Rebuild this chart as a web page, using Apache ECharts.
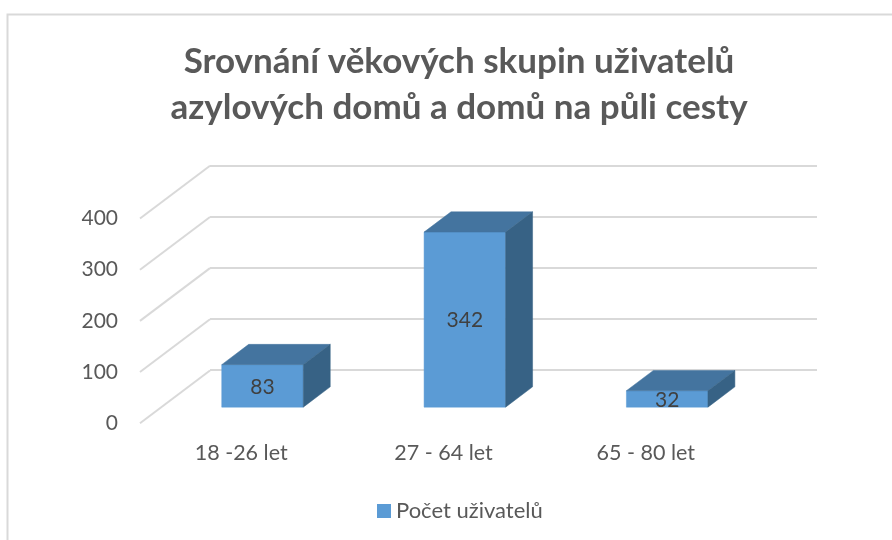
<!DOCTYPE html>
<html>
<head>
<meta charset="utf-8">
<style>html,body{margin:0;padding:0;background:#fff}#c{width:892px;height:540px}</style>
<script src="https://cdn.jsdelivr.net/npm/echarts@6/dist/echarts.min.js"></script>
</head>
<body>
<div id="c"></div>
<script>
const titleText = 'Srovnání věkových skupin uživatelů\nazylových domů a domů na půli cesty';
const seriesName = 'Počet uživatelů';
const categories = ['18 -26 let', '27 - 64 let', '65 - 80 let'];
const counts = [83, 342, 32];
const yTicks = [0, 100, 200, 300, 400];

const FONT = 'Lato, "Noto Sans", sans-serif';
const DEPTH = [70, -52.7];      // wall depth in px
const BAR_START = 0.305, BAR_END = 0.69; // depth fractions occupied by bars
const BAR_RATIO = 0.403;
const FRONT = '#5B9BD5', TOP = '#44749F', SIDE = '#376285';
const GRID_COLOR = '#D9D9D9';

const chart = echarts.init(document.getElementById('c'), null, {renderer: 'canvas'});

function poly(points, color) {
  return {type: 'polygon', shape: {points}, style: {fill: color, stroke: color, lineWidth: 0.5}};
}

chart.setOption({
  animation: false,
  backgroundColor: '#fff',
  title: {
    text: titleText, left: 454, top: 34, textAlign: 'center',
    textStyle: {fontFamily: FONT, fontWeight: 'bold', fontSize: 35, lineHeight: 46, color: '#595959'}
  },
  legend: {
    data: [seriesName], left: 372, top: 495, icon: 'rect', itemWidth: 14, itemHeight: 14, itemGap: 6,
    textStyle: {fontFamily: FONT, fontSize: 22, color: '#595959'}
  },
  grid: [
    {left: 140, top: 218.5, width: 607, height: 204.7},
    {left: 210, top: 165.3, width: 607, height: 204.7}
  ],
  xAxis: [
    {type: 'category', gridIndex: 0, data: categories,
     axisLine: {show: false}, axisTick: {show: false},
     axisLabel: {margin: 19, fontFamily: FONT, fontSize: 21.5, color: '#595959'}},
    {type: 'category', gridIndex: 1, data: categories, show: false}
  ],
  yAxis: [
    {type: 'value', gridIndex: 0, min: 0, max: 400, interval: 100,
     axisLine: {show: false}, axisTick: {show: false}, splitLine: {show: false},
     axisLabel: {margin: 22, padding: [4, 0, 0, 0], fontFamily: FONT, fontSize: 21, color: '#595959'}},
    {type: 'value', gridIndex: 1, min: 0, max: 400, interval: 100,
     axisLine: {show: false}, axisTick: {show: false}, axisLabel: {show: false},
     splitLine: {show: true, lineStyle: {color: GRID_COLOR, width: 2}}}
  ],
  graphic: [
    {type: 'polyline', silent: true, shape: {points: [[7.5, 540], [7.5, 14.5], [892, 14.5]]},
     style: {fill: 'none', stroke: GRID_COLOR, lineWidth: 2}}
  ],
  series: [
    {
      name: 'Mřížka', type: 'custom', xAxisIndex: 0, yAxisIndex: 0, z: 1, silent: true,
      data: yTicks.map(v => [0, v]),
      renderItem(params, api) {
        const y = api.coord([0, api.value(1)])[1];
        const x = params.coordSys.x;
        return {type: 'line', shape: {x1: x, y1: y, x2: x + DEPTH[0], y2: y + DEPTH[1]},
                style: {stroke: GRID_COLOR, lineWidth: 2}};
      }
    },
    {
      name: seriesName, type: 'custom', xAxisIndex: 0, yAxisIndex: 0, z: 3,
      itemStyle: {color: FRONT},
      data: counts.map((v, i) => [i, v]),
      renderItem(params, api) {
        const i = api.value(0), v = api.value(1);
        const w = api.size([1, 0])[0] * BAR_RATIO;
        const c = api.coord([i, 0]), t = api.coord([i, v]);
        const ox = DEPTH[0] * BAR_START, oy = DEPTH[1] * BAR_START;
        const dx = DEPTH[0] * (BAR_END - BAR_START), dy = DEPTH[1] * (BAR_END - BAR_START);
        const l = c[0] - w / 2 + ox, r = c[0] + w / 2 + ox;
        const b = c[1] + oy, h = t[1] + oy;
        return {type: 'group', children: [
          poly([[l, b], [r, b], [r, h], [l, h]], FRONT),
          poly([[l, h], [r, h], [r + dx, h + dy], [l + dx, h + dy]], TOP),
          poly([[r, b], [r + dx, b + dy], [r + dx, h + dy], [r, h]], SIDE),
          {type: 'text', z2: 10, style: {
            text: String(v), x: (l + r) / 2, y: (b + h) / 2 + 1,
            align: 'center', verticalAlign: 'middle',
            fontFamily: FONT, fontSize: 21, fill: '#404040'}}
        ]};
      }
    }
  ]
});
</script>
</body>
</html>
